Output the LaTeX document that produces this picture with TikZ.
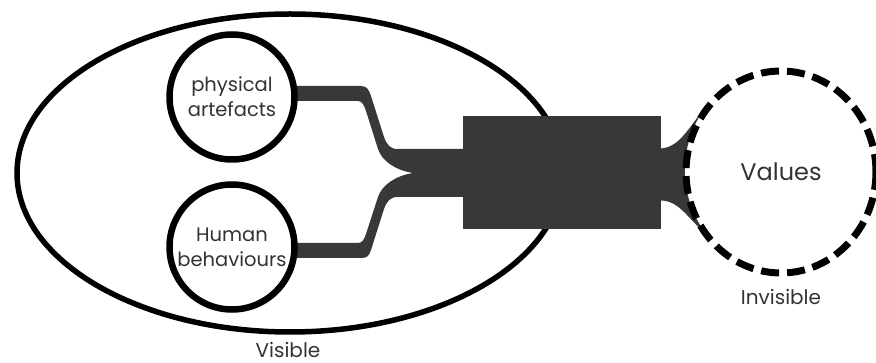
\documentclass[tikz,border=0pt]{standalone}
\usepackage{fontspec}
\setmainfont{Poppins}
\usetikzlibrary{shapes.geometric,calc}
\definecolor{band}{RGB}{56,56,56}
\begin{document}
\begin{tikzpicture}[x=1pt,y=-1pt,
  bubble/.style={circle,draw=black,line width=6.5pt,fill=white,minimum size=125pt,inner sep=0pt,align=center,font=\fontsize{19.5}{25}\selectfont,text=black!80},
  lbl/.style={font=\fontsize{20}{22}\selectfont,text=black!80}]
\useasboundingbox (0,0) rectangle (876,363);
\node[ellipse,draw=black,line width=5.5pt,minimum width=546pt,minimum height=318pt,inner sep=0pt] (e) at (290,173) {};
% merged band from the two bubbles to the box
\fill[band] (280,86) -- (361,86) .. controls (367,86) and (369,90) .. (371,96) -- (384,137) .. controls (387,145) and (390,149) .. (398,149) -- (466,149) -- (466,197) -- (398,197) .. controls (390,197) and (387,201) .. (384,209) -- (371,250) .. controls (369,256) and (367,258) .. (361,258) -- (280,258) -- (280,243) -- (358,243) .. controls (362,243) and (364,240) .. (366,234) -- (378,197) .. controls (382,185) and (395,176) .. (413,173) .. controls (395,170) and (382,161) .. (378,149) -- (366,111) .. controls (364,105) and (362,101) .. (358,101) -- (280,101) -- cycle;
\node[bubble] (p) at (232,97) {physical\\artefacts};
\node[bubble] (h) at (232,247) {Human\\behaviours};
\node[fill=band,minimum width=198pt,minimum height=113pt,inner sep=0pt] (b) at (562,172.5) {};
% flare from the box into the values circle
\fill[band] ($(b.east)+(-1,-24)$) .. controls (680,148) and (690,125) .. (705,108) arc[start angle=218,end angle=142,x radius=95,y radius=101] .. controls (690,222) and (680,200) .. ($(b.east)+(-1,28)$) -- cycle;
\node[ellipse,draw=black,line width=7pt,dash pattern=on 18pt off 8pt,minimum width=190pt,minimum height=202pt,inner sep=0pt,font=\fontsize{24}{26}\selectfont,text=black!80] (v) at (781,172) {Values};
\node[lbl] (vis) at (288,350) {Visible};
\node[lbl] (inv) at (781,297) {Invisible};
\end{tikzpicture}
\end{document}
